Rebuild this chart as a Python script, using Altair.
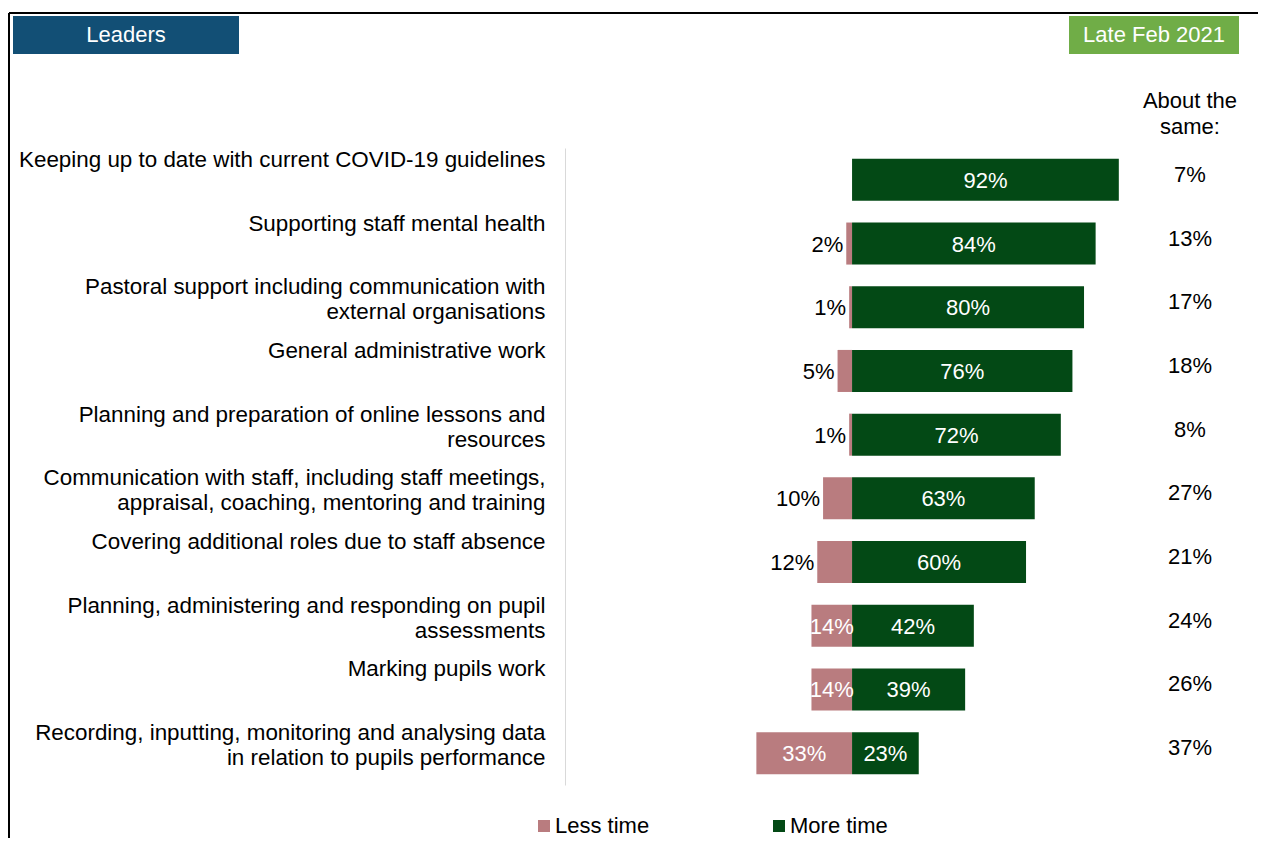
import altair as alt
import pandas as pd

# ---------------- data ----------------
categories = [
    "Keeping up to date with current COVID-19 guidelines",
    "Supporting staff mental health",
    "Pastoral support including communication with|external organisations",
    "General administrative work",
    "Planning and preparation of online lessons and|resources",
    "Communication with staff, including staff meetings,|appraisal, coaching, mentoring and training",
    "Covering additional roles due to staff absence",
    "Planning, administering and responding on pupil|assessments",
    "Marking pupils work",
    "Recording, inputting, monitoring and analysing data|in relation to pupils performance",
]
less_time = [0, 2, 1, 5, 1, 10, 12, 14, 14, 33]
more_time = [92, 84, 80, 76, 72, 63, 60, 42, 39, 23]
about_same = [7, 13, 17, 18, 8, 27, 21, 24, 26, 37]
series = ["Less time", "More time"]
series_colors = ["#B97C7F", "#034915"]
left_badge = "Leaders"
right_badge = "Late Feb 2021"
same_header = ["About the", "same:"]

FONT = "Liberation Sans"
FS = 22

rows = []
for c, l, m in zip(categories, less_time, more_time):
    rows.append({"cat": c, "series": series[0], "pct": l, "value": -l})
    rows.append({"cat": c, "series": series[1], "pct": m, "value": m})
df = pd.DataFrame(rows)
df_same = pd.DataFrame({"cat": categories, "same": about_same})

y_enc = alt.Y(
    "cat:N",
    sort=categories,
    scale=alt.Scale(paddingInner=0.34, paddingOuter=0.17),
    axis=alt.Axis(
        title=None,
        domain=True,
        domainColor="#D9D9D9",
        domainWidth=1,
        ticks=False,
        grid=False,
        labelPadding=20,
        labelAlign="right",
        labelBaseline="top",
        labelOffset=-31,
        labelFont=FONT,
        labelFontSize=22.4,
        labelLineHeight=25,
        labelColor="#000000",
        labelLimit=700,
        labelOverlap=False,
        labelExpr="split(datum.label, '|')",
    ),
)
x_scale = alt.Scale(domain=[-99, 140], nice=False, zero=False)

base = alt.Chart(df).transform_filter("datum.pct > 0").transform_calculate(
    zero="0", mid="datum.value / 2", label="datum.pct + '%'"
)

bars = base.mark_bar().encode(
    x=alt.X("value:Q", scale=x_scale, axis=None),
    x2="zero:Q",
    y=y_enc,
    color=alt.Color(
        "series:N",
        scale=alt.Scale(domain=series, range=series_colors),
        legend=alt.Legend(
            title=None,
            orient="none",
            legendX=-32,
            legendY=667,
            direction="horizontal",
            symbolType="square",
            symbolSize=144,
            symbolStrokeWidth=0,
            labelFont=FONT,
            labelFontSize=FS,
            labelColor="#000000",
            columnPadding=118,
            labelOffset=0,
            padding=0,
        ),
    ),
)

more_txt = base.transform_filter(f"datum.series == '{series[1]}'").mark_text(
    font=FONT, fontSize=FS, color="white", align="center", baseline="middle", dy=1
).encode(x=alt.X("mid:Q", scale=x_scale), y=y_enc, text="label:N")

less_in = base.transform_filter(
    f"datum.series == '{series[0]}' && datum.pct >= 14"
).mark_text(
    font=FONT, fontSize=FS, color="white", align="center", baseline="middle", dy=1
).encode(x=alt.X("mid:Q", scale=x_scale), y=y_enc, text="label:N")

less_out = base.transform_filter(
    f"datum.series == '{series[0]}' && datum.pct < 14"
).mark_text(
    font=FONT, fontSize=FS, color="#000000", align="right", baseline="middle", dx=-3, dy=1
).encode(x=alt.X("value:Q", scale=x_scale), y=y_enc, text="label:N")

same_txt = alt.Chart(df_same).transform_calculate(label="datum.same + '%'").mark_text(
    font=FONT, fontSize=FS, color="#000000", align="center", baseline="middle", dy=-5
).encode(x=alt.value(625), y=y_enc, text="label:N")

same_head = alt.Chart(pd.DataFrame({"t": ["h"]})).mark_text(
    font=FONT, fontSize=FS, color="#000000", align="center", baseline="middle",
    lineHeight=26, text=same_header,
).encode(x=alt.value(625), y=alt.value(-47))

badge_l = alt.Chart(pd.DataFrame({"t": [left_badge]}))
badge_l_rect = badge_l.mark_rect(color="#124F75").encode(
    x=alt.value(-552), x2=alt.value(-326), y=alt.value(-132), y2=alt.value(-94)
)
badge_l_txt = badge_l.mark_text(
    font=FONT, fontSize=FS, color="white", align="center", baseline="middle"
).encode(x=alt.value(-439), y=alt.value(-113), text="t:N")

badge_r = alt.Chart(pd.DataFrame({"t": [right_badge]}))
badge_r_rect = badge_r.mark_rect(color="#70AD47").encode(
    x=alt.value(504), x2=alt.value(674), y=alt.value(-132), y2=alt.value(-94)
)
badge_r_txt = badge_r.mark_text(
    font=FONT, fontSize=FS, color="white", align="center", baseline="middle"
).encode(x=alt.value(589), y=alt.value(-113), text="t:N")

frame = alt.Chart(pd.DataFrame({"t": ["f"]}))
frame_top = frame.mark_rule(color="#000000", strokeWidth=2).encode(
    x=alt.value(-556), x2=alt.value(701), y=alt.value(-135)
)
frame_left = frame.mark_rule(color="#000000", strokeWidth=2).encode(
    x=alt.value(-556), y=alt.value(-135), y2=alt.value(700)
)

chart = alt.layer(
    frame_top, frame_left, badge_l_rect, badge_l_txt, badge_r_rect, badge_r_txt,
    same_head, bars, more_txt, less_in, less_out, same_txt,
).properties(
    width=693,
    height=637,
    padding={"left": 557, "top": 140, "right": 0, "bottom": 53},
    autosize=alt.AutoSizeParams(type="none"),
).configure_view(stroke=None)

chart.save("out.html", embed_options={"renderer": "svg", "actions": False})
